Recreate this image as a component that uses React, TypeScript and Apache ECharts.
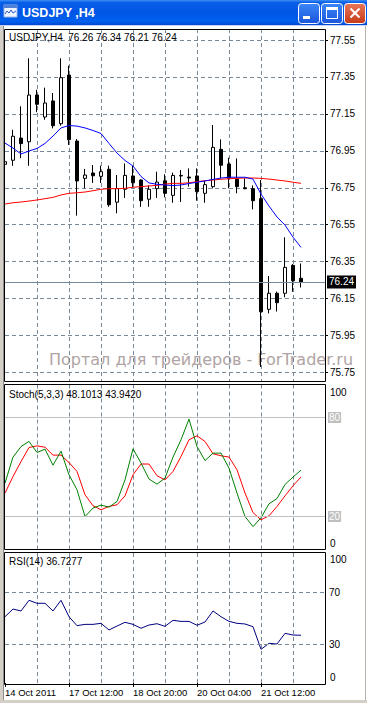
import React, { useEffect, useRef } from "react";
import * as echarts from "echarts";

// ---------- data ----------
const categories = [
  "14 Oct 2011", "14 Oct 08:00", "14 Oct 12:00", "14 Oct 16:00", "14 Oct 20:00",
  "17 Oct 00:00", "17 Oct 04:00", "17 Oct 08:00", "17 Oct 12:00", "17 Oct 16:00",
  "17 Oct 20:00", "18 Oct 00:00", "18 Oct 04:00", "18 Oct 08:00", "18 Oct 12:00",
  "18 Oct 16:00", "18 Oct 20:00", "19 Oct 00:00", "19 Oct 04:00", "19 Oct 08:00",
  "19 Oct 12:00", "19 Oct 16:00", "19 Oct 20:00", "20 Oct 00:00", "20 Oct 04:00",
  "20 Oct 08:00", "20 Oct 12:00", "20 Oct 16:00", "20 Oct 20:00", "21 Oct 00:00",
  "21 Oct 04:00", "21 Oct 08:00", "21 Oct 12:00", "21 Oct 16:00", "21 Oct 20:00",
  "24 Oct 00:00", "24 Oct 04:00", "24 Oct 08:00", " ", "  ", "   ",
];
const labeledBars = [0, 8, 16, 24, 32];

const opens = [
  76.877, 76.899, 77.019, 76.999, 77.252, 77.133, 77.22, 77.097, 77.36, 77.003,
  76.801, 76.83, 76.812, 76.85, 76.672, 76.742, 76.814, 76.792, 76.688, 76.745,
  76.788, 76.709, 76.814, 76.808, 76.814, 76.72, 76.756, 76.958, 76.879, 76.796,
  76.75, 76.745, 76.691, 76.092, 76.179, 76.179, 76.33, 76.26,
];
const highs = [
  76.944, 77.064, 77.191, 77.451, 77.281, 77.292, 77.263, 77.451, 77.411, 77.014,
  76.852, 76.873, 76.87, 76.87, 76.819, 76.882, 76.868, 76.796, 76.763, 76.837,
  76.823, 76.832, 76.846, 76.855, 76.855, 76.788, 77.09, 77.012, 76.913, 76.909,
  76.801, 76.763, 76.792, 76.272, 76.188, 76.482, 76.337, 76.34,
];
const lows = [
  76.846, 76.869, 76.91, 76.869, 77.159, 77.118, 77.072, 77.086, 76.982, 76.599,
  76.747, 76.776, 76.776, 76.647, 76.612, 76.695, 76.752, 76.647, 76.647, 76.695,
  76.698, 76.669, 76.673, 76.756, 76.68, 76.669, 76.747, 76.801, 76.747, 76.72,
  76.742, 76.633, 75.78, 76.07, 76.08, 76.157, 76.187, 76.21,
];
const closes = [
  76.891, 77.029, 76.989, 77.252, 77.202, 77.209, 77.086, 77.346, 77.01, 76.787,
  76.819, 76.815, 76.837, 76.658, 76.746, 76.817, 76.777, 76.68, 76.742, 76.781,
  76.72, 76.817, 76.817, 76.803, 76.729, 76.767, 76.969, 76.872, 76.801, 76.756,
  76.745, 76.68, 76.079, 76.179, 76.128, 76.319, 76.247, 76.24,
];
const maFast = [
  76.992, 76.965, 76.933, 76.949, 76.963, 76.99, 77.03, 77.074, 77.087, 77.084,
  77.074, 77.06, 77.044, 76.99, 76.938, 76.898, 76.868, 76.811, 76.776, 76.769,
  76.765, 76.762, 76.765, 76.773, 76.78, 76.787, 76.795, 76.803, 76.807, 76.807,
  76.807, 76.797, 76.716, 76.651, 76.592, 76.548, 76.483, 76.427,
];
const maSlow = [
  76.662, 76.669, 76.673, 76.678, 76.684, 76.691, 76.698, 76.711, 76.72, 76.723,
  76.727, 76.734, 76.742, 76.745, 76.745, 76.747, 76.753, 76.756, 76.76, 76.763,
  76.77, 76.774, 76.774, 76.777, 76.783, 76.788, 76.792, 76.796, 76.799, 76.801,
  76.803, 76.803, 76.801, 76.797, 76.792, 76.787, 76.78, 76.774,
];
const stochMain = [
  40.2, 56.0, 62.4, 65.5, 58.8, 60.8, 51.1, 59.6, 45.3, 36.2,
  20.0, 25.1, 26.9, 25.7, 29.1, 42.2, 61.0, 52.4, 42.7, 39.6,
  43.3, 56.0, 66.5, 79.0, 62.4, 53.9, 58.4, 58.4, 49.3, 34.2,
  20.0, 13.9, 19.2, 27.7, 30.9, 39.4, 43.9, 48.1013,
];
const stochSignal = [
  34.2, 44.2, 53.3, 61.8, 62.8, 62.0, 57.2, 57.2, 52.7, 47.3,
  33.2, 26.5, 24.1, 26.1, 27.1, 32.5, 45.3, 51.8, 51.8, 44.7,
  42.2, 47.3, 56.4, 66.5, 68.9, 65.5, 58.0, 56.8, 56.0, 48.3,
  34.2, 22.4, 18.0, 20.4, 26.1, 32.5, 38.6, 43.942,
];
const rsiValues = [
  51.0, 56.9, 55.4, 63.6, 61.3, 61.3, 55.4, 63.6, 51.0, 44.1,
  45.1, 45.1, 45.9, 40.8, 43.8, 46.7, 45.1, 42.1, 44.6, 45.6,
  43.6, 48.2, 47.4, 47.4, 44.4, 46.9, 55.4, 51.0, 47.4, 45.9,
  45.4, 43.3, 25.9, 30.5, 30.0, 38.2, 36.9, 36.7277,
];
const priceMin = 75.75;
const priceMax = 77.55;
const priceStep = 0.2;
const lastPrice = 76.24;
const stochLevels = [80, 20];
const rsiLevels = [70, 30];
const rsiAxisLabels = [70, 30];

// ---------- styling ----------
const FONT = '"Liberation Sans", Arial, sans-serif';
const GRID_COLOR = "#778899";
const DASH = [4, 3];

export default function App() {
  const ref = useRef<HTMLDivElement>(null);

  useEffect(() => {
    if (!ref.current) return;
    const chart = echarts.init(ref.current, null, { renderer: "svg" });

    const splitInterval = (index: number) => index > 0 && index % 4 === 0 && index < 40;
    const labelInterval = (index: number) => labeledBars.indexOf(index) >= 0;

    const baseX = (gridIndex: number) => ({
      type: "category" as const,
      gridIndex,
      data: categories,
      boundaryGap: false,
      axisLine: { show: false },
      axisTick: { show: false },
      axisLabel: { show: false },
      splitLine: {
        show: true,
        interval: splitInterval,
        lineStyle: { color: GRID_COLOR, type: DASH, width: 1 },
      },
    });

    const candleData = opens.map((o, i) => [o, closes[i], lows[i], highs[i]]);

    const titleGradient = new echarts.graphic.LinearGradient(0, 0, 0, 1, [
      { offset: 0, color: "#3D8EF5" },
      { offset: 0.1, color: "#0A5FE8" },
      { offset: 0.5, color: "#0055E5" },
      { offset: 0.85, color: "#0060EE" },
      { offset: 1, color: "#0047D2" },
    ]);
    const btnGradient = () =>
      new echarts.graphic.LinearGradient(0, 0, 0, 1, [
        { offset: 0, color: "#3C86F8" },
        { offset: 1, color: "#1A56DA" },
      ]);
    const closeGradient = new echarts.graphic.LinearGradient(0, 0, 0, 1, [
      { offset: 0, color: "#E8765A" },
      { offset: 1, color: "#C63B18" },
    ]);

    const smallText = (text: string, x: number, y: number, extra: any = {}) => ({
      type: "text",
      x,
      y,
      z: 60,
      silent: true,
      style: {
        text,
        fill: "#000",
        font: `10px ${FONT}`,
        align: "left",
        verticalAlign: "middle",
        ...extra,
      },
    });

    const option: any = {
      animation: false,
      backgroundColor: "#FFFFFF",
      grid: [
        { left: 5, top: 29, width: 320, height: 352 },
        { left: 5, top: 40, width: 320, height: 332.5 },
        { left: 5, top: 384.5, width: 320, height: 165 },
        { left: 5, top: 553, width: 320, height: 130 },
      ],
      xAxis: [
        baseX(0),
        { ...baseX(1), show: false },
        baseX(2),
        {
          ...baseX(3),
          axisTick: {
            show: true,
            interval: labelInterval,
            length: 4,
            lineStyle: { color: "#000" },
          },
          axisLabel: {
            show: true,
            interval: labelInterval,
            align: "left",
            margin: 4,
            color: "#000",
            fontSize: 9.5,
            fontFamily: FONT,
          },
        },
      ],
      yAxis: [
        { gridIndex: 0, type: "value", min: 0, max: 1, show: false },
        {
          gridIndex: 1,
          type: "value",
          position: "right",
          min: priceMin,
          max: priceMax,
          interval: priceStep,
          axisLine: { show: false },
          axisTick: { show: true, length: 3, lineStyle: { color: "#000" } },
          axisLabel: {
            color: "#000",
            fontSize: 10,
            fontFamily: FONT,
            margin: 5,
            formatter: (v: number) => v.toFixed(2),
          },
          splitLine: { show: true, lineStyle: { color: GRID_COLOR, type: DASH, width: 1 } },
        },
        {
          gridIndex: 2,
          type: "value",
          position: "right",
          min: 0,
          max: 100,
          axisLine: { show: false },
          axisTick: { show: false },
          axisLabel: { show: false },
          splitLine: { show: false },
        },
        {
          gridIndex: 3,
          type: "value",
          position: "right",
          min: 0,
          max: 100,
          interval: 10,
          axisLine: { show: false },
          axisTick: { show: false },
          axisLabel: {
            color: "#000",
            fontSize: 10,
            fontFamily: FONT,
            margin: 4,
            formatter: (v: number) => (rsiAxisLabels.indexOf(v) >= 0 ? String(v) : ""),
          },
          splitLine: { show: false },
        },
      ],
      series: [
        {
          type: "candlestick",
          xAxisIndex: 1,
          yAxisIndex: 1,
          data: candleData,
          barWidth: 4,
          clip: false,
          silent: true,
          itemStyle: {
            color: "#FFFFFF",
            color0: "#000000",
            borderColor: "#000000",
            borderColor0: "#000000",
            borderWidth: 1,
          },
          markLine: {
            silent: true,
            symbol: ["none", "none"],
            lineStyle: { color: GRID_COLOR, type: "solid", width: 1 },
            label: {
              show: true,
              position: "end",
              distance: 2,
              formatter: () => lastPrice.toFixed(2),
              color: "#FFFFFF",
              backgroundColor: "#000000",
              padding: [2, 2, 1, 2],
              fontSize: 10,
              fontFamily: FONT,
            },
            data: [{ yAxis: lastPrice }],
          },
        },
        {
          type: "line",
          xAxisIndex: 1,
          yAxisIndex: 1,
          data: maSlow,
          symbol: "none",
          silent: true,
          lineStyle: { color: "#FF0000", width: 1 },
        },
        {
          type: "line",
          xAxisIndex: 1,
          yAxisIndex: 1,
          data: maFast,
          symbol: "none",
          silent: true,
          lineStyle: { color: "#0000FF", width: 1 },
        },
        {
          type: "line",
          xAxisIndex: 2,
          yAxisIndex: 2,
          data: stochMain,
          symbol: "none",
          silent: true,
          z: 3,
          lineStyle: { color: "#008000", width: 1 },
          markLine: {
            silent: true,
            symbol: ["none", "none"],
            lineStyle: { color: "#C0C0C0", type: "solid", width: 1 },
            label: {
              show: true,
              position: "end",
              distance: 3,
              formatter: (p: any) => String(p.value),
              color: "#FFFFFF",
              backgroundColor: "#C0C0C0",
              padding: [1, 1, 0, 1],
              fontSize: 10,
              fontFamily: FONT,
            },
            data: stochLevels.map((v) => ({ yAxis: v })),
          },
        },
        {
          type: "line",
          xAxisIndex: 2,
          yAxisIndex: 2,
          data: stochSignal,
          symbol: "none",
          silent: true,
          z: 2,
          lineStyle: { color: "#FF0000", width: 1 },
        },
        {
          type: "line",
          xAxisIndex: 3,
          yAxisIndex: 3,
          data: rsiValues,
          symbol: "none",
          silent: true,
          lineStyle: { color: "#000080", width: 1 },
          markLine: {
            silent: true,
            symbol: ["none", "none"],
            lineStyle: { color: GRID_COLOR, type: DASH, width: 1 },
            label: { show: false },
            data: rsiLevels.map((v) => ({ yAxis: v })),
          },
        },
      ],
      graphic: {
        elements: [
          // watermark
          {
            type: "text",
            x: 49,
            y: 359,
            z: 0,
            silent: true,
            style: {
              text: "Портал для трейдеров - ForTrader.ru",
              fill: "#B0A4A4",
              font: '16px "DejaVu Sans", Verdana, sans-serif',
              align: "left",
              verticalAlign: "middle",
            },
          },
          // title bar
          { type: "rect", z: 50, silent: true, shape: { x: 0, y: 0, width: 367, height: 25 }, style: { fill: titleGradient } },
          { type: "rect", z: 50, silent: true, shape: { x: 0, y: 25, width: 367, height: 1 }, style: { fill: "#C7D4EE" } },
          // icon
          { type: "rect", z: 51, silent: true, shape: { x: 4, y: 5, width: 13, height: 12 }, style: { fill: "#EEF3FF", stroke: "#9CB6E6", lineWidth: 1 } },
          { type: "rect", z: 52, silent: true, shape: { x: 4, y: 5, width: 13, height: 3 }, style: { fill: "#4F7FD8" } },
          {
            type: "polyline",
            z: 52,
            silent: true,
            shape: { points: [[5, 14], [7, 11], [9, 13], [11, 10], [13, 13], [16, 11]] },
            style: { stroke: "#2A5BC8", lineWidth: 1, fill: "none" },
          },
          {
            type: "text",
            x: 22,
            y: 13,
            z: 52,
            silent: true,
            style: {
              text: "USDJPY ,H4",
              fill: "#FFFFFF",
              font: `bold 12.5px ${FONT}`,
              align: "left",
              verticalAlign: "middle",
              textShadowColor: "#0A2A8A",
              textShadowOffsetX: 1,
              textShadowOffsetY: 1,
              textShadowBlur: 0,
            },
          },
          // minimize
          { type: "rect", z: 51, silent: true, shape: { x: 298.5, y: 3.5, width: 21, height: 20, r: 3 }, style: { fill: btnGradient(), stroke: "#FFFFFF", lineWidth: 1 } },
          { type: "rect", z: 52, silent: true, shape: { x: 303, y: 16, width: 7, height: 3 }, style: { fill: "#FFFFFF" } },
          // maximize
          { type: "rect", z: 51, silent: true, shape: { x: 321.5, y: 3.5, width: 21, height: 20, r: 3 }, style: { fill: btnGradient(), stroke: "#FFFFFF", lineWidth: 1 } },
          { type: "rect", z: 52, silent: true, shape: { x: 326.5, y: 7.5, width: 11, height: 11 }, style: { fill: "none", stroke: "#FFFFFF", lineWidth: 1 } },
          { type: "rect", z: 52, silent: true, shape: { x: 326, y: 7, width: 12, height: 3 }, style: { fill: "#FFFFFF" } },
          // close
          { type: "rect", z: 51, silent: true, shape: { x: 344.5, y: 3.5, width: 21, height: 20, r: 3 }, style: { fill: closeGradient, stroke: "#FFFFFF", lineWidth: 1 } },
          { type: "line", z: 52, silent: true, shape: { x1: 350.5, y1: 8.5, x2: 359.5, y2: 17.5 }, style: { stroke: "#FFFFFF", lineWidth: 2 } },
          { type: "line", z: 52, silent: true, shape: { x1: 359.5, y1: 8.5, x2: 350.5, y2: 17.5 }, style: { stroke: "#FFFFFF", lineWidth: 2 } },
          // window frame
          { type: "rect", z: 50, silent: true, shape: { x: 0, y: 26, width: 3, height: 677 }, style: { fill: "#D4D0C8" } },
          { type: "line", z: 50, silent: true, shape: { x1: 3.5, y1: 26, x2: 3.5, y2: 700 }, style: { stroke: "#8C8C8C", lineWidth: 1 } },
          { type: "line", z: 50, silent: true, shape: { x1: 365.5, y1: 26, x2: 365.5, y2: 700 }, style: { stroke: "#B8B4AC", lineWidth: 1 } },
          { type: "rect", z: 50, silent: true, shape: { x: 0, y: 700, width: 367, height: 3 }, style: { fill: "#D4D0C8" } },
          // panel boxes
          { type: "rect", z: 55, silent: true, shape: { x: 4.5, y: 29.5, width: 321, height: 352 }, style: { fill: "none", stroke: "#000", lineWidth: 1 } },
          { type: "rect", z: 55, silent: true, shape: { x: 4.5, y: 384.5, width: 321, height: 165 }, style: { fill: "none", stroke: "#000", lineWidth: 1 } },
          { type: "rect", z: 55, silent: true, shape: { x: 4.5, y: 552.5, width: 321, height: 132 }, style: { fill: "none", stroke: "#000", lineWidth: 1 } },
          // panel headers
          smallText("USDJPY,H4  76.26 76.34 76.21 76.24", 9, 37),
          smallText("Stoch(5,3,3) 48.1013 43.9420", 9, 394.5),
          smallText("RSI(14) 36.7277", 9, 561),
          // indicator scale ends
          smallText("100", 330, 392),
          smallText("0", 330, 543),
          smallText("100", 330, 559),
          smallText("0", 330, 677),
        ],
      },
    };

    chart.setOption(option);
    return () => chart.dispose();
  }, []);

  return (
    <div
      ref={ref}
      style={{ position: "fixed", left: 0, top: 0, width: 367, height: 703, background: "#fff" }}
    />
  );
}
